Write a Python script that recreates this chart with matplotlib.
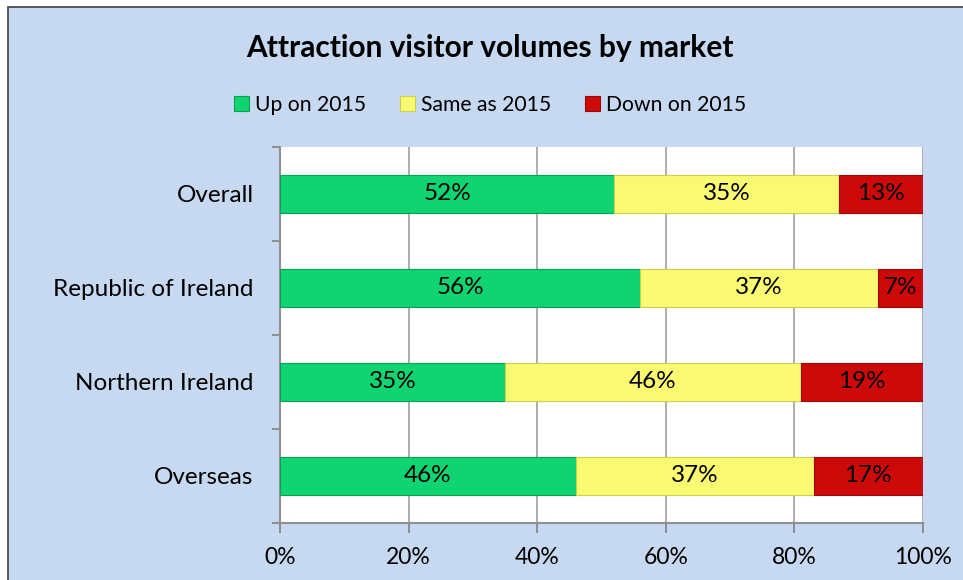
import numpy as np
import matplotlib.pyplot as plt
from matplotlib.patches import Rectangle

plt.rcParams['font.family'] = ['Lato', 'DejaVu Sans']

markets = ['Overall', 'Republic of Ireland', 'Northern Ireland', 'Overseas']
up = [52, 56, 35, 46]
same = [35, 37, 46, 37]
down = [13, 7, 19, 17]
series_names = ['Up on 2015', 'Same as 2015', 'Down on 2015']
colors = ['#10d472', '#fafa72', '#cc0a0a']
edges = ['#0c9e58', '#cfcf4e', '#9a0808']

fig = plt.figure(figsize=(9.63, 5.8), dpi=100)
fig.patch.set_facecolor('white')
# chart area background with border
fig.patches.append(Rectangle((8 / 963, -0.01), 1.0, 0.988 + 0.01, transform=fig.transFigure,
                             facecolor='#c6d9f1', edgecolor='#404040', linewidth=1.2, zorder=-5))

ax = fig.add_axes([280 / 963, 1 - 523 / 580, 643 / 963, 376 / 580])
ax.set_facecolor('white')

y = np.arange(len(markets))
left = np.zeros(len(markets))
for vals, name, c, ec in zip([up, same, down], series_names, colors, edges):
    bars = ax.barh(y, vals, left=left, height=0.4, color=c, edgecolor=ec, linewidth=0.8,
                   label=name, zorder=3)
    for b, v in zip(bars, vals):
        ax.text(b.get_x() + b.get_width() / 2, b.get_y() + b.get_height() / 2, f'{v}%',
                ha='center', va='center', fontsize=17.5, color='black', zorder=4)
    left += np.array(vals)

ax.set_xlim(0, 100)
ax.set_ylim(len(markets) - 0.5, -0.5)
ax.set_xticks(range(0, 101, 20))
ax.set_xticklabels([f'{t}%' for t in range(0, 101, 20)], fontsize=16.5)
ax.set_yticks(y)
ax.set_yticklabels(markets, fontsize=17.5)
ax.set_yticks(np.arange(-0.5, len(markets)), minor=True)
ax.tick_params(axis='y', which='major', length=0, pad=19)
ax.tick_params(axis='y', which='minor', length=6, color='#808080', width=1.2)
ax.tick_params(axis='x', length=7, color='#808080', width=1.2, pad=10)
ax.grid(axis='x', color='#a0a0a0', linewidth=1.2, zorder=0)
ax.set_axisbelow(True)
for s in ['top', 'right']:
    ax.spines[s].set_visible(False)
for s in ['left', 'bottom']:
    ax.spines[s].set_color('#909090')
    ax.spines[s].set_linewidth(1.5)

fig.text(0.509, 1 - 48 / 580, 'Attraction visitor volumes by market', ha='center', va='center',
         fontsize=21.5, fontweight='bold')
fig.legend(loc='center', bbox_to_anchor=(0.509, 1 - 105 / 580), ncol=3, frameon=False,
           fontsize=15.2, handlelength=0.7, handleheight=0.7, handletextpad=0.3, columnspacing=1.6)

fig.savefig('out.png', dpi=100)
